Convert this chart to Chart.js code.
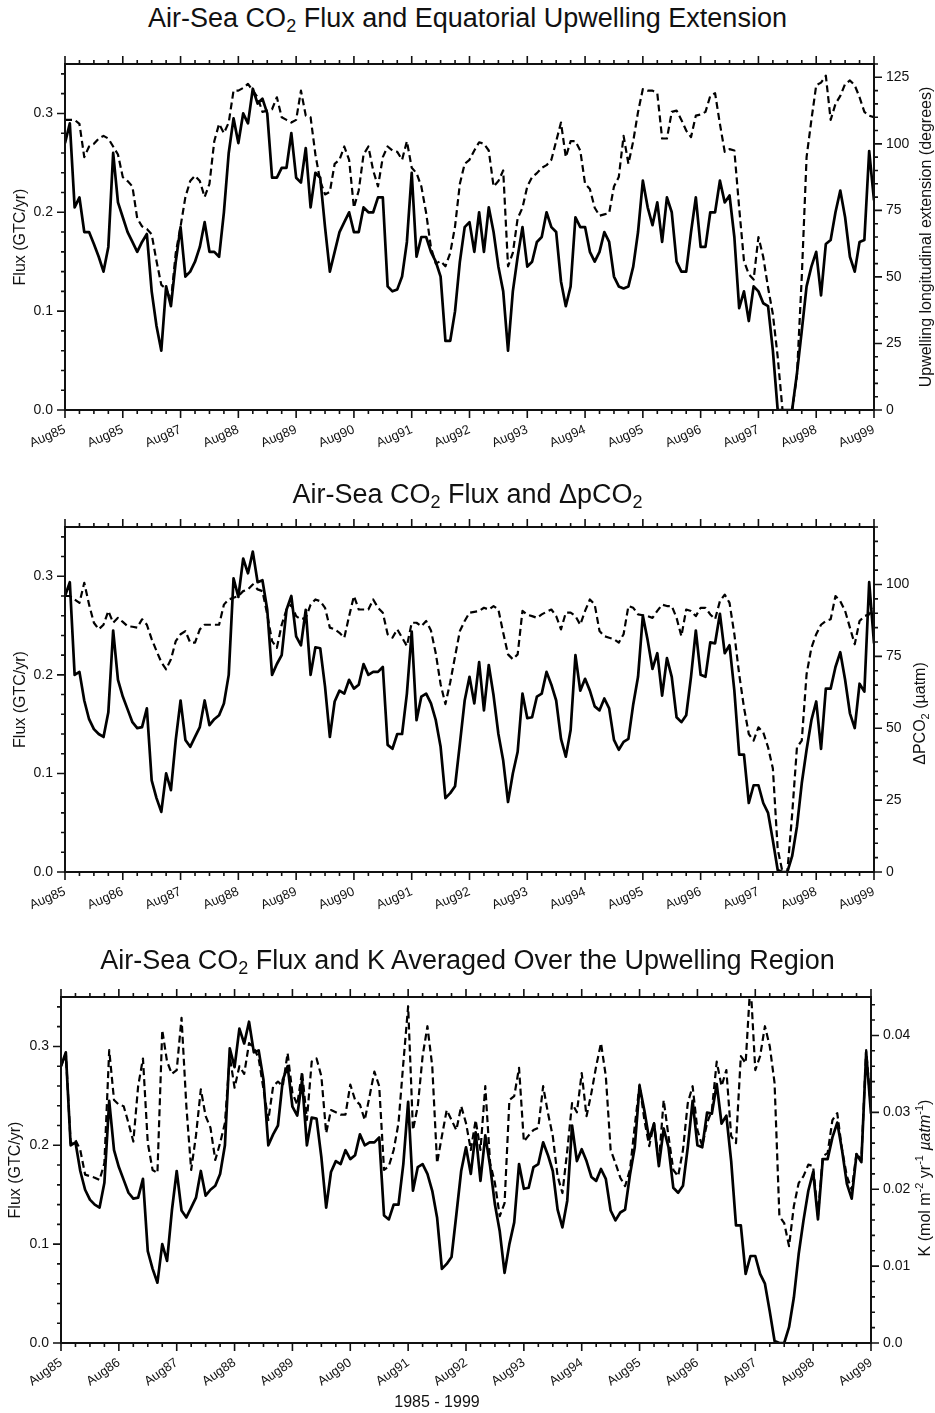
<!DOCTYPE html>
<html>
<head>
<meta charset="utf-8">
<script src="https://cdn.jsdelivr.net/npm/chart.js@4.4.1/dist/chart.umd.min.js"></script>
<style>
	body { margin: 0; background: #fff; width: 935px; height: 1413px; position: relative; overflow: hidden; font-family: 'Liberation Sans', Arial, sans-serif; color: #111; }
	.panel { position: absolute; left: 0; }
	.title { position: absolute; left: 0; width: 935px; text-align: center; font-size: 27px; line-height: 32px; white-space: nowrap; }
	.title sub { font-size: 18px; line-height: 0; vertical-align: -5px; }
	#period { position: absolute; left: 377px; top: 1392px; width: 120px; text-align: center; font-size: 16px; line-height: 20px; }
</style>
</head>
<body>

<canvas id="chart1" class="panel" width="935" height="440" style="top:40px"></canvas>
<canvas id="chart2" class="panel" width="935" height="440" style="top:500px"></canvas>
<canvas id="chart3" class="panel" width="935" height="438" style="top:975px"></canvas>

<div class="title" style="top:2px">Air-Sea CO<sub>2</sub> Flux and Equatorial Upwelling Extension</div>
<div class="title" style="top:478px">Air-Sea CO<sub>2</sub> Flux and &Delta;pCO<sub>2</sub></div>
<div class="title" style="top:944px">Air-Sea CO<sub>2</sub> Flux and K Averaged Over the Upwelling Region</div>
<div id="period">1985 - 1999</div>

<script>
// monthly series, Aug 1985 (month 0) .. Aug 1999 (month 168), one row per year

// tick labels along the time axis (the top panel repeats Aug85)
const timeLabelsTop = ['Aug85', 'Aug85', 'Aug87', 'Aug88', 'Aug89', 'Aug90', 'Aug91', 'Aug92', 'Aug93', 'Aug94', 'Aug95', 'Aug96', 'Aug97', 'Aug98', 'Aug99'];
const timeLabels = ['Aug85', 'Aug86', 'Aug87', 'Aug88', 'Aug89', 'Aug90', 'Aug91', 'Aug92', 'Aug93', 'Aug94', 'Aug95', 'Aug96', 'Aug97', 'Aug98', 'Aug99'];

// air-sea flux (GTC/yr) as plotted against the upwelling extension
const fluxUpwelling = [
	0.27, 0.29, 0.205, 0.215, 0.18, 0.18, 0.168, 0.155, 0.14, 0.165, 0.26, 0.21,
	0.195, 0.18, 0.17, 0.16, 0.17, 0.178, 0.12, 0.085, 0.06, 0.125, 0.105, 0.15,
	0.185, 0.135, 0.14, 0.15, 0.165, 0.19, 0.16, 0.16, 0.155, 0.2, 0.26, 0.295,
	0.27, 0.3, 0.29, 0.325, 0.31, 0.315, 0.3, 0.235, 0.235, 0.245, 0.245, 0.28,
	0.235, 0.23, 0.265, 0.205, 0.24, 0.235, 0.185, 0.14, 0.16, 0.18, 0.19, 0.2,
	0.18, 0.18, 0.205, 0.2, 0.2, 0.215, 0.215, 0.125, 0.12, 0.122, 0.135, 0.17,
	0.24, 0.155, 0.175, 0.175, 0.16, 0.15, 0.135, 0.07, 0.07, 0.1, 0.15, 0.185,
	0.19, 0.16, 0.2, 0.16, 0.205, 0.18, 0.145, 0.12, 0.06, 0.12, 0.155, 0.185,
	0.145, 0.15, 0.17, 0.175, 0.2, 0.185, 0.18, 0.13, 0.105, 0.125, 0.195, 0.185,
	0.185, 0.16, 0.15, 0.16, 0.18, 0.17, 0.135, 0.125, 0.123, 0.125, 0.145, 0.18,
	0.232, 0.205, 0.187, 0.21, 0.17, 0.215, 0.2, 0.15, 0.14, 0.14, 0.18, 0.215,
	0.165, 0.165, 0.2, 0.2, 0.232, 0.21, 0.217, 0.175, 0.103, 0.12, 0.09, 0.125,
	0.12, 0.108, 0.105, 0.06, 0, 0, 0, 0, 0.037, 0.08, 0.125, 0.145,
	0.16, 0.116, 0.168, 0.172, 0.2, 0.222, 0.195, 0.155, 0.14, 0.17, 0.172, 0.262,
	0.212
];

// air-sea flux (GTC/yr) in the delta pCO2 and K panels
const flux = [
	0.28, 0.294, 0.2, 0.203, 0.174, 0.155, 0.145, 0.14, 0.137, 0.162, 0.245, 0.195,
	0.178, 0.165, 0.152, 0.146, 0.147, 0.166, 0.093, 0.075, 0.061, 0.1, 0.083, 0.134,
	0.174, 0.134, 0.127, 0.137, 0.147, 0.174, 0.149, 0.155, 0.159, 0.171, 0.2, 0.298,
	0.279, 0.318, 0.303, 0.325, 0.294, 0.296, 0.266, 0.2, 0.211, 0.22, 0.266, 0.28,
	0.239, 0.23, 0.266, 0.2, 0.228, 0.227, 0.188, 0.137, 0.173, 0.184, 0.181, 0.195,
	0.186, 0.19, 0.211, 0.2, 0.203, 0.203, 0.208, 0.129, 0.125, 0.14, 0.14, 0.181,
	0.244, 0.154, 0.178, 0.181, 0.171, 0.154, 0.127, 0.075, 0.08, 0.087, 0.13, 0.174,
	0.198, 0.171, 0.213, 0.164, 0.21, 0.179, 0.14, 0.113, 0.071, 0.1, 0.122, 0.181,
	0.156, 0.157, 0.178, 0.181, 0.203, 0.19, 0.174, 0.135, 0.117, 0.144, 0.22, 0.184,
	0.196, 0.184, 0.168, 0.164, 0.176, 0.166, 0.134, 0.124, 0.132, 0.135, 0.17, 0.198,
	0.26, 0.235, 0.206, 0.222, 0.179, 0.217, 0.198, 0.157, 0.152, 0.159, 0.198, 0.245,
	0.2, 0.198, 0.233, 0.232, 0.262, 0.222, 0.23, 0.184, 0.119, 0.119, 0.07, 0.088,
	0.088, 0.07, 0.06, 0.032, 0.002, 0, 0, 0.016, 0.046, 0.09, 0.124, 0.154,
	0.173, 0.125, 0.186, 0.186, 0.208, 0.223, 0.195, 0.161, 0.146, 0.191, 0.183, 0.294,
	0.232
];

// equatorial upwelling longitudinal extension (degrees)
const upwellingExtent = [
	109, 109, 109, 107.5, 95, 99, 100, 102, 103, 102, 99, 96,
	87.5, 86, 84, 72, 69, 68, 66, 56, 47, 45.5, 41, 59,
	69, 80, 86, 88, 86, 80, 85, 101, 107.5, 104, 108, 120,
	120, 121, 122.5, 120, 117.5, 112, 112.5, 113, 117.5, 110, 109, 108,
	109, 120, 110.6, 110, 96, 86, 81, 82, 92.5, 94, 99, 94,
	76, 82.5, 96, 99, 90, 84, 95, 99, 97.5, 97, 94, 101,
	91, 89, 84, 74, 61, 55, 56, 54, 59, 69, 85, 92.5,
	94, 97.5, 100.6, 100, 97.5, 84, 86, 90, 54, 59, 72, 76,
	84, 87.5, 89, 91, 92, 94, 101, 108, 95, 101, 101, 97.5,
	85, 83, 76, 73, 73.5, 74, 84, 87.5, 103, 92.5, 101, 112,
	120.6, 120, 120, 119, 102, 102, 112, 112.5, 109, 105, 102.5, 110.6,
	111, 112, 118, 119, 107.5, 97, 98, 97.5, 76, 56, 51, 49,
	65, 57.5, 46, 36, 20, 0, 0, 0, 13, 50, 95, 109,
	122, 123, 125.6, 109, 115, 118, 122.5, 123.8, 122, 117.5, 112, 110.6,
	110
];

// delta pCO2 (uatm)
const deltaPco2 = [
	96, 96, 94.8, 93.6, 100.6, 93, 86.7, 84.4, 86, 90.8, 86.7, 88.4,
	87, 85.5, 85.3, 85, 87.9, 86, 81, 76.9, 73, 70.5, 74, 80.3,
	82.7, 83.8, 79.8, 79.8, 84.4, 86, 86, 86, 86, 93, 94.8, 95.4,
	96, 97.7, 98.3, 100, 98.3, 97.7, 89.6, 80.3, 78, 86, 91.3, 93,
	89, 87.9, 88.4, 93, 94.8, 94.2, 91.9, 85, 84.4, 83.2, 81.5, 89,
	96, 91.3, 91.3, 91.3, 94.8, 91.9, 90.2, 82.7, 81.5, 84.4, 81.5, 78.6,
	86.7, 86.7, 85.5, 87.3, 84, 76, 65.3, 58.4, 66, 75, 83.8, 87.3,
	90.2, 90.5, 90.8, 91.9, 91.3, 92.5, 91.3, 83.2, 75.7, 74, 75.7, 90.8,
	89.5, 89, 88.4, 89.6, 90.5, 91.3, 89, 84.4, 90.2, 90.2, 89, 86,
	90.8, 94.8, 93, 83.8, 82, 81.5, 81, 79.8, 82.7, 92.5, 91.9, 89.6,
	89.3, 89, 88.4, 90.8, 93, 92.5, 92.5, 88.4, 82, 91.3, 90.8, 89,
	91.9, 91.9, 89.6, 87.9, 94.2, 96.5, 93.6, 82.7, 68.8, 57.2, 48, 45.7,
	50.3, 48.6, 43.4, 36, 8, 0, 0, 20, 43.4, 45.7, 68.8, 78,
	82.7, 86, 87.3, 87.9, 96, 94.2, 90.8, 85, 79.2, 87.3, 89, 89.6,
	91.9
];

// gas transfer coefficient K (mol m-2 yr-1 uatm-1)
const transferK = [
	0.036, 0.0377, 0.026, 0.0264, 0.0251, 0.0219, 0.0217, 0.0215, 0.0212, 0.0234, 0.0381, 0.0316,
	0.031, 0.0308, 0.0286, 0.0262, 0.0334, 0.037, 0.026, 0.0225, 0.0221, 0.0407, 0.0366, 0.035,
	0.0355, 0.0423, 0.0308, 0.0225, 0.027, 0.033, 0.0295, 0.028, 0.0238, 0.026, 0.0286, 0.0373,
	0.0332, 0.036, 0.035, 0.039, 0.0384, 0.037, 0.033, 0.029, 0.0334, 0.034, 0.0334, 0.0377,
	0.0325, 0.031, 0.0353, 0.029, 0.0366, 0.037, 0.0347, 0.0273, 0.0303, 0.03, 0.0297, 0.0297,
	0.0336, 0.0316, 0.031, 0.029, 0.0321, 0.0353, 0.0334, 0.0225, 0.023, 0.0251, 0.0286, 0.0364,
	0.0438, 0.0277, 0.0308, 0.0373, 0.0412, 0.036, 0.0234, 0.0269, 0.0303, 0.029, 0.0277, 0.0308,
	0.0286, 0.0251, 0.029, 0.0251, 0.0334, 0.0234, 0.0208, 0.0165, 0.0182, 0.0316, 0.0321, 0.0358,
	0.0262, 0.027, 0.0277, 0.028, 0.0334, 0.0299, 0.0269, 0.0217, 0.0195, 0.025, 0.0312, 0.03,
	0.0351, 0.0295, 0.0325, 0.036, 0.039, 0.0347, 0.0251, 0.0234, 0.0215, 0.0204, 0.0225, 0.0282,
	0.0336, 0.029, 0.0256, 0.0286, 0.0234, 0.0316, 0.0269, 0.0225, 0.0217, 0.0251, 0.0312, 0.0334,
	0.0277, 0.0256, 0.0286, 0.0303, 0.0366, 0.0334, 0.0355, 0.0269, 0.026, 0.0373, 0.0364, 0.047,
	0.0355, 0.0373, 0.0412, 0.0386, 0.0338, 0.0165, 0.0156, 0.0126, 0.0178, 0.0208, 0.0217, 0.0232,
	0.023, 0.0165, 0.0243, 0.0247, 0.029, 0.0299, 0.0251, 0.0217, 0.0199, 0.0247, 0.0238, 0.0381,
	0.0303
];

const INK = '#111';
const FAMILY = "'Liberation Sans', Arial, sans-serif";
const LAST_MONTH = 168;

function toPoints(values) {
	return values.map((v, i) => ({ x: i, y: v }));
}

// centred rich text: parts may be subscripts or superscripts
function drawRich(ctx, parts, size) {
	const small = Math.round(size * 0.7);
	const fontOf = p => (p.italic ? 'italic ' : '') + (p.sub || p.sup ? small : size) + 'px ' + FAMILY;
	const widths = parts.map(p => { ctx.font = fontOf(p); return ctx.measureText(p.text).width; });
	let x = -widths.reduce((a, b) => a + b, 0) / 2;
	parts.forEach((p, i) => {
		ctx.font = fontOf(p);
		const dy = p.sub ? size * 0.3 : p.sup ? -size * 0.38 : 0;
		ctx.fillText(p.text, x, dy);
		x += widths[i];
	});
}

// frame, outward major/minor ticks on all four sides, right-hand title
function frameTicks(cfg) {
	return {
		id: 'frameTicks',
		afterDraw(chart) {
			const { ctx, chartArea: a, scales } = chart;
			ctx.save();
			ctx.strokeStyle = INK;
			ctx.lineWidth = 2;
			ctx.strokeRect(a.left, a.top, a.right - a.left, a.bottom - a.top);

			ctx.lineWidth = 1.6;
			ctx.beginPath();
			for (let m = 0; m <= LAST_MONTH; m += 3) {
				const x = scales.x.getPixelForValue(m);
				const len = m % 12 === 0 ? 8 : 4;
				ctx.moveTo(x, a.bottom); ctx.lineTo(x, a.bottom + len);
				ctx.moveTo(x, a.top); ctx.lineTo(x, a.top - len);
			}
			for (let i = 0; i * 0.02 <= 0.35 + 1e-9; i++) {
				const y = scales.y.getPixelForValue(i * 0.02);
				const len = i % 5 === 0 ? 8 : 4;
				ctx.moveTo(a.left, y); ctx.lineTo(a.left - len, y);
			}
			const r = cfg.right;
			for (let i = 0; i * r.minor <= r.max + 1e-9; i++) {
				const y = scales.y2.getPixelForValue(i * r.minor);
				const len = i % r.every === 0 ? 8 : 4;
				ctx.moveTo(a.right, y); ctx.lineTo(a.right + len, y);
			}
			ctx.stroke();

			ctx.fillStyle = INK;
			ctx.textBaseline = 'middle';
			ctx.translate(a.right + r.titleX, (a.top + a.bottom) / 2 + r.titleDy);
			ctx.rotate(-Math.PI / 2);
			drawRich(ctx, r.title, 16);
			ctx.restore();
		}
	};
}

function buildChart(id, cfg) {
	const tickFont = { family: FAMILY, size: 14 };
	return new Chart(document.getElementById(id), {
		type: 'line',
		data: {
			datasets: [
				{ data: toPoints(cfg.flux), yAxisID: 'y', borderColor: '#000', borderWidth: 2.7 },
				{ data: toPoints(cfg.rightData), yAxisID: 'y2', borderColor: '#000', borderWidth: 2.2, borderDash: [7, 4] }
			]
		},
		options: {
			responsive: false,
			animation: false,
			events: [],
			layout: { padding: { top: cfg.padTop, bottom: 6, left: 0, right: 0 } },
			plugins: { legend: { display: false }, tooltip: { enabled: false } },
			elements: {
				point: { radius: 0 },
				line: { tension: 0, borderJoinStyle: 'round', fill: false }
			},
			scales: {
				x: {
					type: 'linear', min: 0, max: LAST_MONTH,
					grid: { display: false, drawTicks: true, tickLength: 8 },
					border: { display: false },
					ticks: {
						stepSize: 12, autoSkip: false,
						minRotation: cfg.rotation, maxRotation: cfg.rotation,
						padding: 4, color: INK,
						font: { family: FAMILY, size: cfg.xFont },
						callback: (v, i) => cfg.labels[i]
					},
					afterFit: s => { s.height = cfg.xHeight; }
				},
				y: {
					position: 'left', min: 0, max: 0.35,
					grid: { display: false, drawTicks: true, tickLength: 8 },
					border: { display: false },
					ticks: { stepSize: 0.1, includeBounds: false, padding: 4, color: INK, font: tickFont, callback: v => v.toFixed(1) },
					title: { display: true, text: 'Flux (GTC/yr)', color: INK, font: { family: FAMILY, size: 16 }, padding: { top: cfg.leftTitlePad, bottom: 0 } },
					afterFit: s => { s.width = cfg.leftWidth; }
				},
				y2: {
					position: 'right', min: 0, max: cfg.right.max,
					grid: { display: false, drawTicks: true, tickLength: 8 },
					border: { display: false },
					ticks: { stepSize: cfg.right.step, includeBounds: false, padding: 4, color: INK, font: tickFont, callback: cfg.right.format },
					afterFit: s => { s.width = cfg.rightWidth; }
				}
			}
		},
		plugins: [frameTicks(cfg)]
	});
}

buildChart('chart1', {
	flux: fluxUpwelling, rightData: upwellingExtent, labels: timeLabelsTop,
	padTop: 24, xHeight: 64, leftWidth: 65, rightWidth: 61, leftTitlePad: 11,
	rotation: 23, xFont: 13,
	right: {
		max: 130, step: 25, minor: 5, every: 5, format: v => String(v), titleX: 53, titleDy: 0,
		title: [{ text: 'Upwelling longitudinal extension (degrees)' }]
	}
});

buildChart('chart2', {
	flux: flux, rightData: deltaPco2, labels: timeLabels,
	padTop: 27, xHeight: 62, leftWidth: 65, rightWidth: 61, leftTitlePad: 11,
	rotation: 23, xFont: 13,
	right: {
		max: 120, step: 25, minor: 5, every: 5, format: v => String(v), titleX: 47, titleDy: 14,
		title: [{ text: '\u0394PCO' }, { text: '2', sub: true }, { text: ' (\u00b5atm)' }]
	}
});

buildChart('chart3', {
	flux: flux, rightData: transferK, labels: timeLabels,
	padTop: 22, xHeight: 64, leftWidth: 61, rightWidth: 64, leftTitlePad: 6,
	rotation: 35, xFont: 13,
	right: {
		max: 0.045, step: 0.01, minor: 0.002, every: 5, format: v => (v === 0 ? '0.0' : v.toFixed(2)), titleX: 55, titleDy: 8,
		title: [
			{ text: 'K (mol m' }, { text: '-2', sup: true }, { text: ' yr' }, { text: '-1', sup: true },
			{ text: ' \u00b5atm', italic: true }, { text: '-1', sup: true }, { text: ')' }
		]
	}
});
</script>
</body>
</html>
